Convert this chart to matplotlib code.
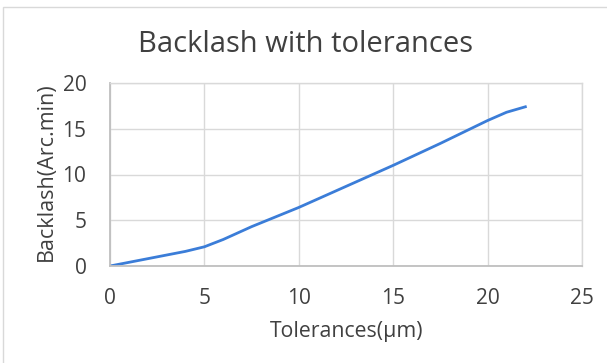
import matplotlib.pyplot as plt
from matplotlib.patches import Rectangle

tolerance = [0, 1, 2.5, 4, 5, 6, 7.5, 10, 12.5, 15, 17.5, 20, 21, 22]
backlash = [0, 0.4, 1.0, 1.6, 2.1, 2.9, 4.3, 6.4, 8.7, 11.0, 13.4, 15.9, 16.8, 17.4]

x_ticks = [0, 5, 10, 15, 20, 25]
y_ticks = [0, 5, 10, 15, 20]

plt.rcParams['font.family'] = ['Open Sans', 'DejaVu Sans']
text_color = '#404040'
W, H = 607, 363

fig = plt.figure(figsize=(6.07, 3.63), dpi=100)
ax = fig.add_axes([110 / W, 1 - 266 / H, 472 / W, 183 / H])

ax.plot(tolerance, backlash, color='#3b7dd8', lw=2, solid_joinstyle='round')

ax.set_xlim(0, 25)
ax.set_ylim(0, 20)
ax.set_xticks(x_ticks)
ax.set_yticks(y_ticks)
ax.grid(True, color='#d9d9d9', lw=1)
ax.set_axisbelow(True)
for side in ['top', 'right']:
    ax.spines[side].set_color('#d9d9d9')
    ax.spines[side].set_linewidth(1)
for side in ['left', 'bottom']:
    ax.spines[side].set_color('#bfbfbf')
    ax.spines[side].set_linewidth(1.3)
ax.tick_params(length=0, labelsize=15, colors=text_color)
ax.tick_params(axis='x', pad=16)
ax.tick_params(axis='y', pad=17)

# axis labels and title placed by baseline
fig.text(347 / W, 1 - 337 / H, 'Tolerances(μm)', fontsize=15.3, color=text_color,
         ha='center', va='baseline')
fig.text(52 / W, 1 - 172 / H, 'Backlash(Arc.min)', fontsize=15.5, color=text_color,
         ha='center', va='baseline', rotation=90, rotation_mode='anchor')
fig.text(306 / W, 1 - 52 / H, 'Backlash with tolerances', fontsize=21, color=text_color,
         ha='center', va='baseline')

fig.patches.append(Rectangle((3 / W, -0.05), 1.1, 1.05 - 7 / H,
                             transform=fig.transFigure, fill=False,
                             edgecolor='#d9d9d9', lw=1))

fig.savefig('out.png', dpi=100)
